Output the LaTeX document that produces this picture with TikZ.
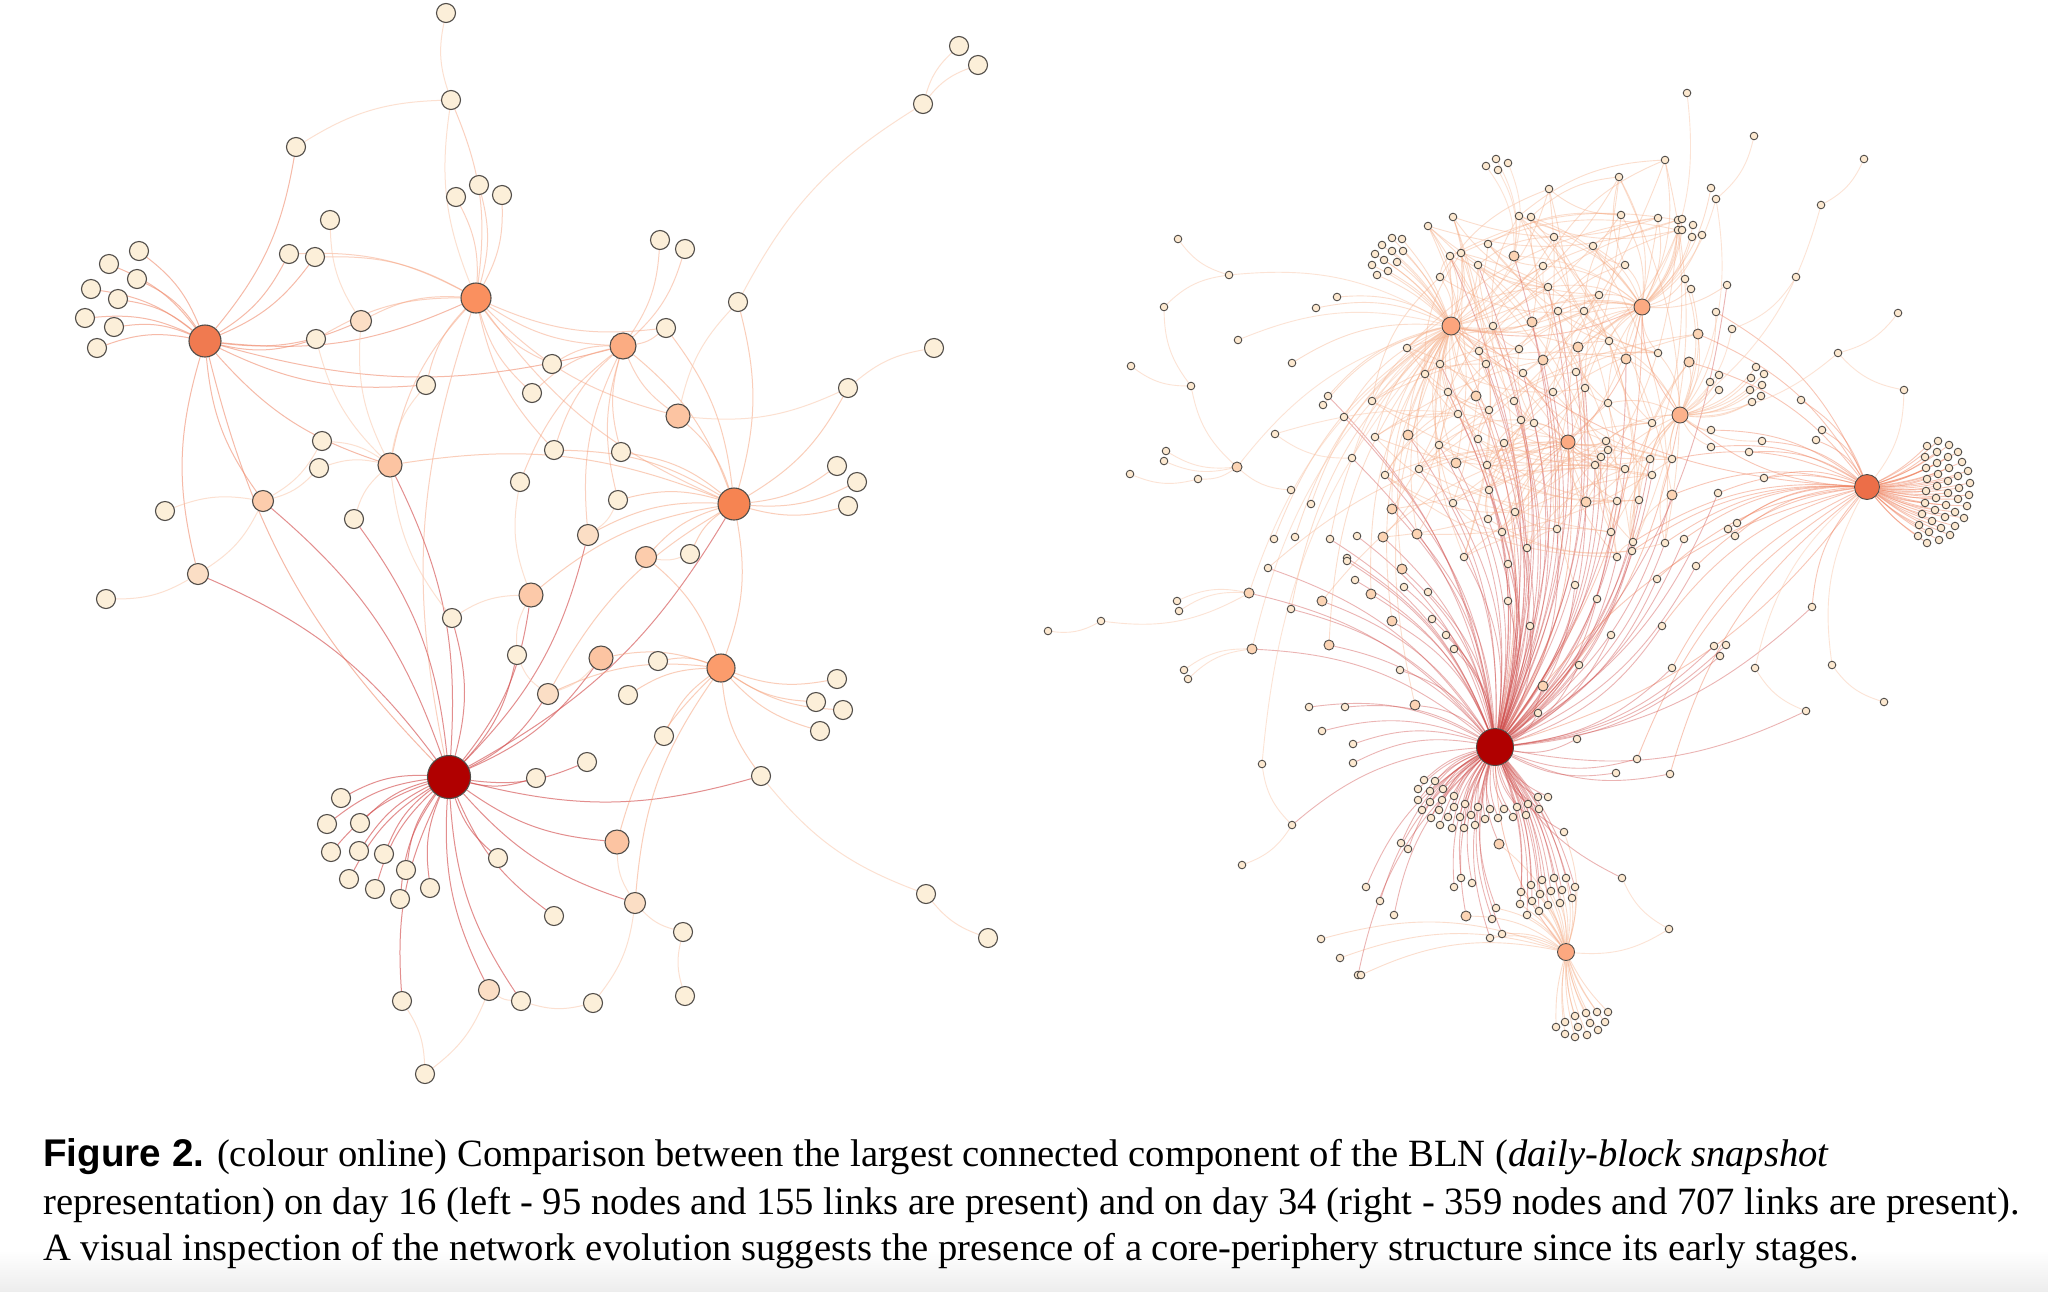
\documentclass[tikz,border=0pt]{standalone}
\usepackage{fontspec}
\setmainfont{Liberation Serif}
\newfontfamily\capsans{Liberation Sans}
\pgfdeclarelayer{bg}
\pgfsetlayers{bg,main}
\definecolor{nstroke}{RGB}{80,76,72}
\definecolor{lcream}{RGB}{252,239,217}
\definecolor{lpeachA}{RGB}{251,222,197}
\definecolor{lpeachB}{RGB}{252,196,162}
\definecolor{hubA}{RGB}{240,122,80}
\definecolor{hubB}{RGB}{250,144,95}
\definecolor{hubC}{RGB}{176,0,0}
\definecolor{hubD}{RGB}{251,156,108}
\definecolor{hubE}{RGB}{246,132,82}
\definecolor{hubF}{RGB}{251,172,130}
\definecolor{rcream}{RGB}{253,233,208}
\definecolor{rpeach}{RGB}{252,212,180}
\definecolor{edA}{RGB}{240,140,110}
\definecolor{edB}{RGB}{247,165,130}
\definecolor{edC}{RGB}{212,82,82}
\definecolor{edD}{RGB}{246,158,118}
\definecolor{edL}{RGB}{250,200,172}
\definecolor{edR}{RGB}{208,78,76}
\definecolor{edO}{RGB}{240,130,95}
\definecolor{edP}{RGB}{246,170,130}
\def\gsmall{1665/160/4/0/0,1619/177/4/3/0,1549/189/3/0/0,1453/217/3/0/0,1428/226/3/0/0,1519/216/4/0/0,1531/217/4/0/0,
1621/215/4/0/0,1658/218/4/0/0,1678/220/4/0/0,1678/230/4/0/0,1554/237/4/3/0,1488/244/3/0/0,1593/246/4/3/0,1450/256/3/1/0,
1461/253/3/0/0,1478/265/3/1/0,1543/266/4/3/0,1625/265/4/0/0,1440/277/3/0/0,1548/287/4/1/0,1599/295/4/3/0,1493/326/3/4/1,
1558/311/4/3/1,1584/311/4/3/0,1407/348/3/0/0,1479/351/3/1/0,1519/349/3/4/0,1609/341/4/5/0,1658/353/4/5/0,1440/364/3/1/0,
1486/364/3/1/0,1425/374/3/0/0,1523/373/3/1/0,1576/372/4/1/0,1585/388/4/1/0,1372/401/3/0/0,1448/392/3/1/0,1553/392/4/1/0,
1514/401/3/1/0,1608/403/4/5/0,1458/414/3/1/0,1489/410/1/3/0,1521/420/1/6/0,1534/423/1/6/0,1652/423/5/4/0,1375/437/3/0/0,
1478/439/1/3/0,1439/445/1/3/0,1504/443/1/6/0,1606/441/6/5/0,1608/450/6/1/0,1601/457/6/1/0,1595/465/6/1/0,1650/459/5/1/0,
1672/459/5/2/0,1625/469/6/1/0,1652/475/5/1/0,1385/475/3/1/0,1419/469/1/3/0,1487/465/1/6/0,1489/490/1/6/0,1453/503/1/3/0,
1515/512/1/6/0,1617/501/6/1/0,1639/500/5/1/0,1488/519/1/0/0,1502/532/1/6/0,1557/529/6/1/0,1611/532/1/5/0,1633/542/1/2/0,
1632/551/1/2/0,1665/543/2/1/0,1527/548/1/0/0,1464/557/1/3/0,1617/557/1/6/0,
1711/188/4/0/0,1685/279/5/4/0,1691/289/5/4/0,1727/285/1/4/0,1716/312/5/2/0,1756/367/5/0/0,1764/374/5/0/0,1751/378/5/0/0,
1762/385/5/0/0,1750/390/5/0/0,1761/396/5/0/0,1752/402/5/0/0,1719/375/5/0/0,1710/382/5/0/0,1719/390/5/0/0,1801/400/2/0/0,
1711/430/5/2/0,1822/430/2/0/0,1816/440/2/0/0,1762/441/2/5/0,1711/447/5/2/0,1749/452/2/0/0,1764/478/2/0/0,1718/493/2/1/0,
1737/523/2/0/0,1728/529/2/0/0,1735/536/2/0/0,1684/539/1/2/0,1682/219/4/0/0,1693/225/4/0/0,1682/230/4/0/0,1692/237/4/0/0,
1702/235/4/0/0,
1316/308/3/0/0,1337/297/3/0/0,1292/363/3/0/0,1328/396/3/1/0,1323/405/3/0/0,1344/417/3/1/0,1311/504/3/0/0,1274/539/3/0/0,
1295/537/3/0/0,1330/539/3/1/0,1357/536/1/0/0,1347/558/1/0/0,
1268/568/1/6/0,1347/561/1/0/0,1355/580/1/0/0,1291/609/1/3/0,1309/707/1/0/0,1345/707/1/0/0,1322/731/1/0/0,1353/744/1/0/0,
1353/763/1/0/0,1321/939/7/0/0,1340/958/7/0/0,1358/975/1/0/0,
1404/587/1/0/0,1428/592/1/0/0,1432/619/1/0/0,1446/635/1/0/0,1454/649/1/0/0,1508/564/1/6/0,1508/601/1/0/0,1530/626/1/0/0,
1575/585/1/6/0,1597/599/1/0/0,1657/579/1/2/0,1662/626/1/2/0,1611/635/1/0/0,1672/668/1/2/0,1579/665/1/0/0,1400/670/1/0/0,
1538/713/1/0/0,1577/739/1/0/0,1637/759/1/2/0,1616/773/1/0/0,1670/774/1/2/0,1401/843/1/0/0,1408/849/1/0/0,1564/832/1/7/0,
1366/887/1/0/0,1380/901/1/0/0,1394/915/1/0/0,1461/878/1/0/0,1454/887/1/0/0,1472/883/1/0/0,1496/908/1/7/0,1492/919/1/0/0,
1490/938/1/7/0,1502/934/1/7/0,1361/975/7/0/0,
1696/566/1/2/0,1812/607/1/2/0,1714/646/1/0/0,1726/645/1/0/0,1720/656/1/0/0}
\def\gpeach{1532/322/3/4/1,1578/347/4/1/6,1626/359/4/5/1,1543/360/1/3/4,1476/396/1/3/0,1408/435/3/1/0,1456/463/1/3/0,
1392/509/1/3/0,1586/502/6/1/5,1383/537/1/0/0,1417/534/1/3/0,1698/334/5/2/0,1689/362/5/2/0,1672/495/2/1/0,1322/601/1/6/0,
1329/645/1/3/0,1402/569/1/3/0,1371/594/1/3/0,1392/621/1/3/0,1543/686/1/2/0,1415/705/1/3/0,1499/844/1/7/0,1466/916/1/7/0}
\def\clA{1424/780,1435/781,1418/789,1430/791,1443/789,1418/800,1430/802,1442/800,1454/796,1422/810,
1439/810,1454/807,1465/804,1478/807,1431/818,1448/817,1460/817,1471/815,1440/825,1452/828,1464/828,1475/825,1485/819,
1490/809,1504/809,1517/807,1498/818,1513/817,1528/804,1526/815,1539/809,1538/797,1548/797}
\def\clB{1531/885,1542/880,1554/878,1566/878,1521/892,1540/894,1551/891,1562/890,1575/887,
1520/904,1532/901,1548/905,1560/903,1572/898,1527/915,1539/911}
\def\clC{1556/1027,1565/1022,1575/1016,1586/1013,1597/1012,1608/1012,1565/1034,1578/1027,
1590/1023,1605/1022,1575/1037,1587/1035,1598/1030}
\def\clD{1938/441,1927/446,1949/445,1958/452,1937/452,1925/457,1948/457,1962/462,1937/463,1926/468,
1949/468,1968/471,1938/474,1927/479,1958/476,1948/481,1970/483,1937/486,1926/491,1959/488,1948/493,1969/495,1936/498,
1925/503,1958/499,1946/505,1967/506,1935/510,1922/514,1955/512,1945/517,1964/518,1932/521,1919/525,1955/526,1941/528,
1929/532,1950/535,1918/536,1939/540,1927/543}
\def\clE{1392/238,1402/239,1382/245,1392/251,1403/251,1375/254,1384/260,1397/262,1372/265,1388/271,1377/275}
\begin{document}
\begin{tikzpicture}[x=0.5pt,y=-0.5pt,
  lnode/.style={circle,draw=nstroke,line width=0.55pt,fill=lcream,minimum size=9.5pt,inner sep=0pt},
  lpa/.style={lnode,fill=lpeachA,minimum size=10.5pt},
  lpb/.style={lnode,fill=lpeachB,minimum size=12pt},
  lhub/.style={lnode,minimum size=#1},
  rs/.style={circle,draw=nstroke,line width=0.45pt,fill=rcream,minimum size=3.8pt,inner sep=0pt},
  rp/.style={rs,fill=rpeach,minimum size=5pt},
  rhub/.style={rs,minimum size=#1},
  eA/.style={draw=edA,line width=0.5pt,draw opacity=0.6},
  eB/.style={draw=edB,line width=0.5pt,draw opacity=0.5},
  eC/.style={draw=edC,line width=0.5pt,draw opacity=0.65},
  eD/.style={draw=edD,line width=0.5pt,draw opacity=0.5},
  eL/.style={draw=edL,line width=0.5pt,draw opacity=0.55},
  eR1/.style={draw=edR,line width=0.45pt,draw opacity=0.42},
  eR2/.style={draw=edO,line width=0.45pt,draw opacity=0.45},
  eR3/.style={draw=edP,line width=0.45pt,draw opacity=0.4},
  eRL/.style={draw=edL,line width=0.45pt,draw opacity=0.5},
  eh/.code={\ifnum#1=1 \pgfkeysalso{/tikz/eR1}\else\ifnum#1=2 \pgfkeysalso{/tikz/eR2}\else\pgfkeysalso{/tikz/eR3}\fi\fi},
  capfont/.style={font=\fontsize{19.3}{22}\selectfont}
]
\useasboundingbox (0,0) rectangle (2048,1291);

% ================= LEFT NETWORK: nodes =================
\node[lhub=16pt,fill=hubA] (LA) at (205,341) {};
\node[lhub=15pt,fill=hubB] (LB) at (476,298) {};
\node[lhub=21.5pt,fill=hubC] (LC) at (449,777) {};
\node[lhub=14pt,fill=hubD] (LD) at (721,668) {};
\node[lhub=16pt,fill=hubE] (LE) at (734,504) {};
\node[lhub=13pt,fill=hubF] (LF) at (623,346) {};
\node[lpb] (m1) at (390,465) {};
\node[lpb] (m2) at (678,416) {};
\node[lpb] (m3) at (601,658) {};
\node[lpb] (m4) at (617,842) {};
\node[lpa,fill=lpeachB!70!lpeachA] (m5) at (263,501) {};
\node[lpa] (m6) at (548,694) {};
\node[lpb,fill=lpeachB!80!lpeachA] (m7) at (531,595) {};
\node[lpa] (m8) at (361,321) {};
\node[lpa] (m9) at (198,574) {};
\node[lpa] (m10) at (489,990) {};
\node[lpa] (m11) at (635,903) {};
\node[lpa] (m12) at (588,535) {};
\node[lpa,fill=lpeachB!70!lpeachA] (m13) at (646,557) {};
\foreach \nm/\xx/\yy in {t1/446/13,t2/451/100,t3/296/147,t4/456/197,t5/479/185,t6/502/195,t7/330/220,t8/289/254,t9/315/257,
  a1/139/251,a2/109/264,a3/137/279,a4/91/289,a5/118/299,a6/85/318,a7/114/327,a8/97/348,
  t10/316/339,t11/426/385,t12/552/364,t13/532/393,t14/554/450,t15/520/482,t16/322/441,t17/319/468,t18/165/511,t19/354/519,
  u1/959/46,u2/978/65,u3/923/104,u4/660/240,u5/685/249,u6/738/302,u7/666/328,u8/934/348,u9/848/388,u10/621/452,u11/837/466,u12/857/482,u13/848/506,u14/618/500,u15/690/554,
  v1/106/599,v2/452/618,v3/517/655,v4/587/762,v5/536/778,
  c1/341/798,c2/327/824,c3/360/823,c4/331/852,c5/359/851,c6/384/854,c7/406/870,c8/349/879,c9/375/889,c10/400/899,c11/430/888,
  w1/498/858,w2/554/916,w3/402/1001,w4/521/1001,w5/593/1003,w6/425/1074,
  d1/658/661,d2/628/695,d3/664/736,d4/761/776,d5/683/932,d6/685/996,d7/926/894,d8/988/938,d9/837/679,d10/816/702,d11/843/710,d12/820/731}
  {\node[lnode] (\nm) at (\xx,\yy) {};}

% ================= RIGHT NETWORK: nodes =================
\node[rhub=18.5pt,fill=hubC] (h1) at (1495,747) {};
\node[rhub=12.5pt,fill={rgb,255:red,236;green,110;blue,72}] (h2) at (1867,487) {};
\node[rhub=9pt,fill={rgb,255:red,252;green,165;blue,125}] (h3) at (1451,326) {};
\node[rhub=8pt,fill={rgb,255:red,252;green,170;blue,130}] (h4) at (1642,307) {};
\node[rhub=8pt,fill={rgb,255:red,252;green,178;blue,140}] (h5) at (1680,415) {};
\node[rhub=7pt,fill={rgb,255:red,252;green,170;blue,130}] (h6) at (1568,442) {};
\node[rhub=8.5pt,fill={rgb,255:red,252;green,168;blue,128}] (h7) at (1566,952) {};
\foreach \xx/\yy/\ta/\tb/\tc [count=\i] in \gsmall {\node[rs] (g\i) at (\xx,\yy) {};}
\foreach \xx/\yy/\ta/\tb/\tc [count=\i] in \gpeach {\node[rp] (p\i) at (\xx,\yy) {};}
\foreach \xx/\yy [count=\i] in \clA {\node[rs] (ca\i) at (\xx,\yy) {};}
\foreach \xx/\yy [count=\i] in \clB {\node[rs] (cb\i) at (\xx,\yy) {};}
\foreach \xx/\yy [count=\i] in \clC {\node[rs] (cc\i) at (\xx,\yy) {};}
\foreach \xx/\yy [count=\i] in \clD {\node[rs] (cd\i) at (\xx,\yy) {};}
\foreach \xx/\yy [count=\i] in \clE {\node[rs] (ce\i) at (\xx,\yy) {};}
\foreach \nm/\xx/\yy in {q1/1687/93,q2/1754/136,q3/1864/159,q4/1821/205,q5/1716/199,q6/1796/277,q7/1732/329,q8/1898/313,
  q9/1838/353,q10/1904/390,q11/1178/239,q12/1229/275,q13/1164/307,q14/1238/340,q15/1131/366,q16/1191/386,q17/1166/451,
  q18/1164/461,q20/1130/474,q21/1198/479,q22/1291/490,q23/1275/434,q24/1352/458,q26/1177/601,q27/1179/611,
  q28/1101/621,q29/1048/631,q31/1184/670,q32/1188/679,q33/1262/764,q34/1292/825,q35/1242/865,q36/1669/929,
  q37/1622/878,q38/1755/668,q39/1806/711,q40/1832/665,q41/1884/702,k1/1486/166,k2/1496/159,k3/1508/163,k4/1498/170}
  {\node[rs] (\nm) at (\xx,\yy) {};}
\node[rp] (q19) at (1237,467) {};
\node[rp] (q25) at (1249,593) {};
\node[rp] (q30) at (1252,649) {};
\node[rp] (q42) at (1514,256) {};

% ================= BACKGROUND + ALL EDGES (one background layer) =================
\begin{pgfonlayer}{bg}
\fill[white] (0,0) rectangle (2048,1291);
\shade[top color=white,bottom color=black!7] (0,1250) rectangle (2048,1291);
\foreach \t in {a1,a2,a3,a4,a5,a6,a7,a8,t8,t9,t3,m8,LB,t10,LC,m9,m5,t11,LF,m1}
  \draw[eA] (LA) to[bend right=15] (\t);
\foreach \t in {t4,t5,t6,t2,t8,t9,m8,t10,LF,t12,t13,LE,t11,m1,LC,m2,t14,u7}
  \draw[eB] (LB) to[bend right=15] (\t);
\foreach \t in {c1,c2,c3,c4,c5,c6,c7,c8,c9,c10,c11,w1,w2,w3,w4,m10,v4,v5,m4,m9,m5,v2,m1,m7,v3,m6,m3,LE,d4,t19,m12,m11}
  \draw[eC] (LC) to[bend right=15] (\t);
\foreach \t in {d9,d10,d11,d12,d4,m3,d1,d2,d3,LE,m13,m6,m4,m11}
  \draw[eD] (LD) to[bend right=15] (\t);
\foreach \t in {u11,u12,u13,u9,u6,LF,m2,u7,m12,m7,m1,u14,m13,u15,u10,m6,t14}
  \draw[eD] (LE) to[bend right=15] (\t);
\foreach \t in {u4,u5,u7,t12,t13,m2,u10,u14,t14,t15,m12}
  \draw[eB] (LF) to[bend right=15] (\t);
\foreach \s/\t in {t1/t2,t2/t3,t2/LB,u1/u3,u2/u3,u3/u6,u8/u9,t7/m8,m8/m1,m5/t18,m5/t16,m5/t17,m1/t16,m1/t17,m1/t19,m1/v2,v1/m9,m9/m5,d4/d7,d7/d8,w6/w3,w6/m10,m10/w4,w4/w5,w5/m11,m11/d5,d5/d6,m4/m11,m12/u14,m13/u15,m2/u9,m7/v2,m7/v3,v3/m6,m6/m3,t15/m7,t11/m1,u6/m2,t10/m1}
  \draw[eL] (\s) to[bend right=15] (\t);

\foreach \s/\t in {h3/h4,h1/h3,h4/h5,h5/h2,h1/h2,h1/h7,h1/h6,h6/h3,h6/h4,h1/h5,h1/h4,h3/h2}
  \draw[eR2] (\s) to[bend right=18] (\t);
\foreach \xx/\yy/\ta/\tb/\tc [count=\i] in \gsmall {
    \ifnum\ta>0 \draw[eh=\ta] (h\ta) to[bend right=18] (g\i);\fi
    \ifnum\tb>0 \draw[eh=\tb] (h\tb) to[bend right=18] (g\i);\fi
    \ifnum\tc>0 \draw[eh=\tc] (h\tc) to[bend right=18] (g\i);\fi
}
\foreach \xx/\yy/\ta/\tb/\tc [count=\i] in \gpeach {
    \ifnum\ta>0 \draw[eh=\ta] (h\ta) to[bend right=18] (p\i);\fi
    \ifnum\tb>0 \draw[eh=\tb] (h\tb) to[bend right=18] (p\i);\fi
    \ifnum\tc>0 \draw[eh=\tc] (h\tc) to[bend right=18] (p\i);\fi
}
% web of links among the core nodes
\foreach \i in {1,...,76} {
  \pgfmathtruncatemacro\ja{mod(\i+4,76)+1}
  \pgfmathtruncatemacro\jb{mod(\i+16,76)+1}
  \draw[eR3] (g\i) to[bend right=18] (g\ja);
  \draw[eR3] (g\i) to[bend right=18] (g\jb);
}
\foreach \i in {1,...,14} {
  \pgfmathtruncatemacro\ja{mod(\i*5,76)+1}
  \pgfmathtruncatemacro\jb{mod(\i*11+3,76)+1}
  \draw[eR3] (p\i) to[bend right=18] (g\ja);
  \draw[eR3] (p\i) to[bend right=18] (g\jb);
}
\foreach \xx/\yy [count=\i] in \clA {\draw[eR1] (h1) to[bend right=14] (ca\i);}
\foreach \xx/\yy [count=\i] in \clB {\draw[eR1] (h1) to[bend left=12] (cb\i); \draw[eR3] (h7) to[bend right=10] (cb\i);}
\foreach \xx/\yy [count=\i] in \clC {\draw[eR3] (h7) to[bend right=8] (cc\i);}
\foreach \xx/\yy [count=\i] in \clD {\draw[eR2] (h2) to[bend right=8] (cd\i);}
\foreach \xx/\yy [count=\i] in \clE {\draw[eR3] (h3) to[bend right=10] (ce\i);}
\foreach \s/\t in {h4/q1,q5/q2,h4/q5,h5/q5,q4/q3,h5/q4,q7/q6,h5/q7,q9/q8,q9/q10,h5/q9,h2/q10,q11/q12,q12/q13,h3/q12,
  q13/q16,q15/q16,q16/q19,q17/q19,q18/q19,q20/q21,q21/q19,q19/q22,h3/q19,h3/q14,q23/q24,h3/q24,q25/q26,q25/q27,q28/q25,
  q29/q28,h3/q25,q30/q31,q30/q32,h3/q30,q33/q34,q35/q34,h3/q33,q37/q36,h2/q38,q38/q39,h2/q40,q40/q41,q42/k1,q42/k2,
  q42/k3,q42/k4,h3/q42,h4/q42,h6/q23,h7/q36}
  \draw[eRL] (\s) to[bend right=18] (\t);
\foreach \t in {q25,q30,q34,q37,q42,q24,q39}
  \draw[eR1] (h1) to[bend right=18] (\t);
\end{pgfonlayer}

% ================= CAPTION =================
\node[capfont,anchor=base west,inner sep=0pt] (cap1) at (43,1166)
  {{\capsans\bfseries Figure 2.} (colour online) Comparison between the largest connected component of the BLN (\textit{daily-block snapshot}};
\node[capfont,anchor=base west,inner sep=0pt] (cap2) at (43,1214)
  {representation) on day 16 (left - 95 nodes and 155 links are present) and on day 34 (right - 359 nodes and 707 links are present).};
\node[capfont,anchor=base west,inner sep=0pt] (cap3) at (43,1260)
  {A visual inspection of the network evolution suggests the presence of a core-periphery structure since its early stages.};
\end{tikzpicture}
\end{document}
